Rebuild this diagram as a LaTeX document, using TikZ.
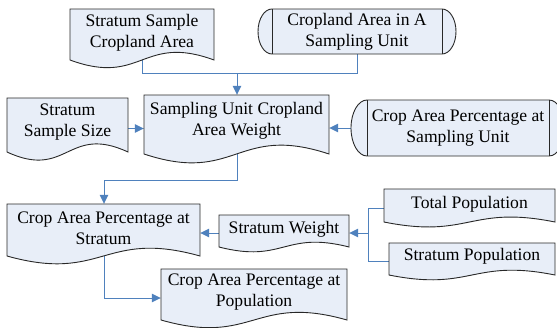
\documentclass[tikz,border=0pt]{standalone}
\usepackage{fontspec}
\setmainfont{Liberation Serif}
\usetikzlibrary{arrows.meta,calc}
\pgfdeclarelayer{connlayer}
\pgfdeclarelayer{shapelayer}
\pgfsetlayers{connlayer,shapelayer,main}
\definecolor{boxfill}{RGB}{232,238,248}
\definecolor{linkblue}{RGB}{79,129,189}
\definecolor{boxline}{RGB}{40,40,40}
\tikzset{
  txt/.style={inner sep=0pt, align=center, font=\fontsize{17.6}{21}\selectfont},
  shapeline/.style={draw=boxline, fill=boxfill, line width=0.9pt},
  innerline/.style={draw=boxline, line width=0.9pt},
  link/.style={draw=linkblue, line width=1pt},
  arrowlink/.style={link, -{Triangle[length=9pt,width=8.5pt]}, fill=none}
}
% #1 name, #2 x1, #3 x2, #4 top, #5 wave base, #6 text centre y, #7 text
\newcommand\docnode[7]{%
  \node[txt, minimum width={(#3-#2)*1pt}, minimum height={2*(#6-#4)*1pt}] (#1) at ({(#2+#3)/2},#6) {#7};
  \begin{pgfonlayer}{shapelayer}
    \path[shapeline] (#2,#4) -- (#3,#4) -- (#3,#5)
      .. controls ({(#2+#3)/2},{#5-0.52*(#5-#4)}) and ({(#2+#3)/2},{#5+0.52*(#5-#4)}) .. (#2,#5) -- cycle;
  \end{pgfonlayer}
}
% #1 name, #2 x1, #3 x2, #4 top, #5 bottom, #6 end radius, #7 text
\newcommand\storenode[7]{%
  \node[txt, minimum width={(#3-#2)*1pt}, minimum height={(#5-#4)*1pt}] (#1) at ({(#2+#3)/2},{(#4+#5)/2}) {#7};
  \begin{pgfonlayer}{shapelayer}
    \path[shapeline] ({#2+#6},#4) -- ({#3-#6},#4)
      arc[start angle=90, end angle=-90, x radius=#6pt, y radius={(#5-#4)/2*1pt}]
      -- ({#2+#6},#5)
      arc[start angle=270, end angle=90, x radius=#6pt, y radius={(#5-#4)/2*1pt}] -- cycle;
    \path[innerline] ({#2+#6},#4) -- ({#2+#6},#5) ({#3-#6},#4) -- ({#3-#6},#5);
  \end{pgfonlayer}
}
\begin{document}
\begin{tikzpicture}[x=1pt,y=-1pt]
\useasboundingbox (0,0) rectangle (557,327);

\docnode{A}{70}{214}{9}{60}{32.4}{Stratum Sample\\Cropland Area}
\storenode{B}{258}{456}{9}{54}{14}{Cropland Area in A\\Sampling Unit}
\docnode{C}{7}{128}{98}{152}{121.8}{Stratum\\Sample Size}
\docnode{D}{144}{329}{95}{154}{121}{Sampling Unit Cropland\\Area Weight}
\storenode{E}{351}{565}{100}{156}{16}{Crop Area Percentage at\\Sampling Unit}
\docnode{F}{7}{200}{204}{256}{228.4}{Crop Area Percentage at\\Stratum}
\docnode{G}{219}{349}{215}{247}{228.9}{Stratum Weight}
\docnode{H}{384}{555}{189}{222}{204.2}{Total Population}
\docnode{J}{389}{555}{243}{275}{256.6}{Stratum Population}
\docnode{I}{161}{347}{269}{320}{292.5}{Crop Area Percentage at\\Population}

\coordinate (jab) at (237,73);
\coordinate (dfk) at (104,180);
\coordinate (hj) at (368,233);

\begin{pgfonlayer}{connlayer}
  \draw[link] (A.south) |- (jab);
  \draw[link] (B.south) |- (jab);
  \draw[arrowlink] (jab) -- (jab |- D.north);
  \draw[arrowlink] (C.east |- 0,128.5) -- (D.west |- 0,128.5);
  \draw[arrowlink] (E.west) -- (D.east |- E.west);
  \draw[link] (D.south -| jab) |- (dfk);
  \draw[arrowlink] (dfk) -- (dfk |- F.north);
  \draw[arrowlink] (G.west |- hj) -- (F.east |- hj);
  \draw[arrowlink] (F.south -| dfk) |- (I.west |- 0,298);
  \draw[link] (H.west |- 0,208) -| (hj);
  \draw[link] (J.west |- 0,261) -| (hj);
  \draw[arrowlink] (hj) -- (G.east |- hj);
\end{pgfonlayer}
\end{tikzpicture}
\end{document}
